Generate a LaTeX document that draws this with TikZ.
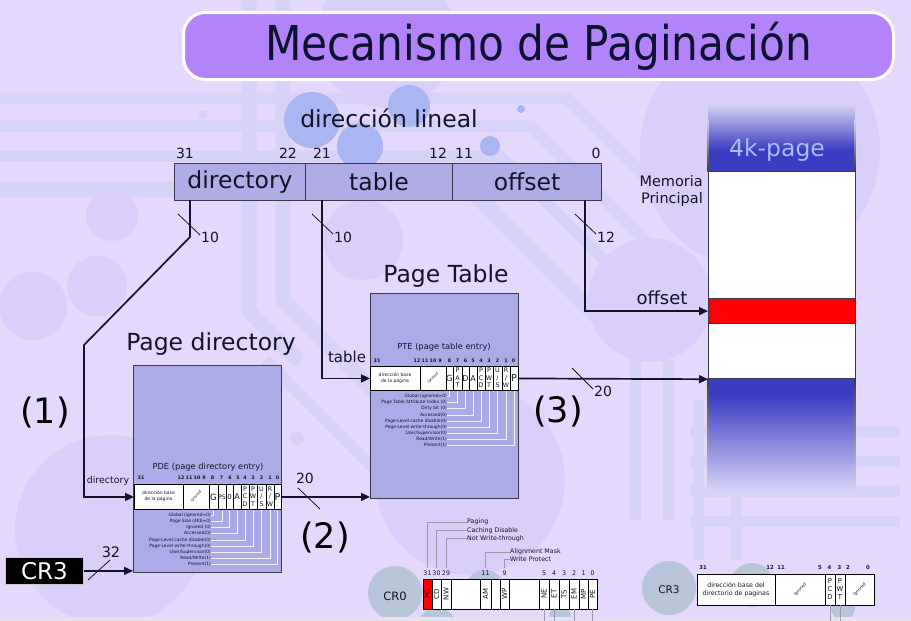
\documentclass[tikz,border=0pt]{standalone}
\usepackage{fontspec}
\setmainfont{DejaVu Sans}
\newfontfamily\titlefont[FakeStretch=0.88]{DejaVu Sans}
\usetikzlibrary{arrows.meta}
\definecolor{bgcol}{HTML}{E4D8FC}
\definecolor{ringcol}{HTML}{D9CFFA}
\definecolor{bluedot}{HTML}{A9B6F2}
\definecolor{greydot}{HTML}{B9C5D9}
\definecolor{trace}{HTML}{D7D2F7}
\definecolor{titlefill}{HTML}{B383FB}
\definecolor{titleink}{HTML}{0C1230}
\definecolor{ink}{HTML}{141428}
\definecolor{barfill}{HTML}{B0ACE6}
\definecolor{boxfill}{HTML}{ACABE8}
\definecolor{boxedge}{HTML}{3A3A4A}
\definecolor{pageblue}{HTML}{3A3CC2}
\definecolor{pagelabel}{HTML}{A9BDF4}
\definecolor{pagetop}{HTML}{D4D2F2}
\definecolor{pagefade}{HTML}{D6D2F6}
\definecolor{leader}{HTML}{F2F2FA}
\definecolor{regleader}{HTML}{9A9AA8}
\definecolor{bottomstrip}{HTML}{E6E3EE}
\definecolor{cr3edge}{HTML}{C8C8D0}
\newcommand\setsz[2]{\fontsize{#1}{#2}\selectfont}
\begin{document}
\begin{tikzpicture}[x=1pt,y=-1pt,
  wire/.style={draw=ink,line width=1.7pt},
  arrowwire/.style={wire,-{Triangle[length=9pt,width=8pt]}},
  buswidth/.style={draw=ink,line width=0.8pt},
  txt/.style={inner sep=0pt,text=ink},
  fieldbox/.style={draw=boxedge,line width=1pt,fill=barfill,inner sep=0pt,
    minimum height=37pt,anchor=north west,font=\setsz{23.5}{28},text=ink},
  tablebox/.style={draw=boxedge,line width=1.2pt,fill=boxfill,inner sep=0pt,anchor=north west},
  entryrow/.style={draw=black,line width=0.9pt,fill=white,inner sep=0pt,anchor=north west},
  divider/.style={draw=black,line width=0.7pt},
  leaderline/.style={draw=leader,line width=0.55pt},
  regline/.style={draw=regleader,line width=0.7pt},
  bitno/.style={inner sep=0pt,text=ink,font=\setsz{4.8}{5}\bfseries},
  flag/.style={inner sep=0pt,text=ink,align=center,font=\setsz{6.3}{7.4}},
  note/.style={inner sep=0pt,text=ink,anchor=east,font=\setsz{4.4}{5}},
  skew/.style={inner sep=0pt,text=ink,rotate=45,font=\setsz{3.6}{4}},
  bigmark/.style={inner sep=0pt,text=black,font=\setsz{35}{40}},
  headline/.style={inner sep=0pt,text=ink,font=\setsz{23.5}{28}},
  regflag/.style={inner sep=0pt,text=ink,rotate=90,font=\setsz{7}{8}},
  regbit/.style={inner sep=0pt,text=ink,font=\setsz{6.3}{7}},
  regnote/.style={inner sep=0pt,text=ink,anchor=west,font=\setsz{6.3}{7}},
  band/.style={draw=trace,line width=11pt},
]
\useasboundingbox (0,0) rectangle (911,621);
\fill[bgcol] (0,0) rectangle (911,621);

% ---------- background ornaments: circuit traces and dots ----------
\draw[band] (0,98) -- (567,98) -- (760,291);
\draw[band] (0,126) -- (531,126) -- (720,315);
\draw[band] (0,156) -- (500,156) -- (690,346);
\draw[band,line width=16pt] (0,189) -- (470,189) -- (640,359);
\draw[band,line width=15pt] (249,0) -- (249,311) -- (300,362);
\draw[band,line width=15pt] (283,0) -- (283,300) -- (380,397);
\draw[band] (265,360) -- (380,475);
\draw[band] (635,360) -- (635,520);
\draw[band] (668,360) -- (668,520);
\draw[band] (690,431) -- (900,431);
\draw[band] (690,461) -- (900,461);
\draw[band] (690,491) -- (900,491);
\draw[band] (690,521) -- (900,521);
\draw[band] (698,400) -- (698,560);
\draw[band] (736,400) -- (736,560);
\fill[ringcol] (760,150) circle (120);
\fill[ringcol] (386,38) circle (70);
\fill[ringcol] (110,530) circle (95);
\fill[ringcol] (470,480) circle (95);
\fill[ringcol] (650,300) circle (62);
\fill[ringcol] (363,240) circle (40);
\fill[ringcol] (112,215) circle (26);
\fill[ringcol] (33,306) circle (34);
\fill[ringcol] (97,286) circle (30);
\fill[ringcol] (297,438) circle (7);
\fill[ringcol] (783,465) circle (13);
\fill[ringcol] (203,115) circle (5);
\fill[bluedot] (312,120) circle (28);
\fill[bluedot] (360,146) circle (23);
\fill[bluedot] (409,106) circle (21);
\fill[bluedot] (490,146) circle (10);
\fill[bluedot] (521,109) circle (4);
\fill[greydot] (395,593) circle (27);
\fill[greydot] (437,628) circle (20);
\fill[greydot] (485,590) circle (20);
\fill[greydot] (560,617) circle (11);
\fill[greydot] (669,588) circle (27);
\fill[greydot] (752,585) circle (22);
\fill[greydot] (843,608) circle (12);
\fill[bottomstrip] (0,617) rectangle (911,621);

% ---------- title ----------
\node[draw=white,line width=3pt,fill=titlefill,rounded corners=22pt,
  minimum width=710pt,minimum height=67pt,inner sep=0pt,anchor=north west,
  text=titleink,font=\titlefont\setsz{48}{52}] (title) at (182,11) {Mecanismo de Paginación};

% ---------- linear address ----------
\node[headline] (linaddr) at (389,118) {dirección lineal};
\node[fieldbox,minimum width=131pt] (dirfield) at (174,163) {directory};
\node[fieldbox,minimum width=147pt] (tblfield) at (305,163) {table};
\node[fieldbox,minimum width=149pt] (offfield) at (452,163) {offset};
\foreach \bx/\bn [count=\i] in {185/31,288/22,322/21,438/12,464/11,596/0}
  \node[txt,font=\setsz{14}{16}] (linbit\i) at (\bx,153) {\bn};

\coordinate (dirtap) at (190,200);
\coordinate (tbltap) at (322,200);
\coordinate (offtap) at (585,200);

% ---------- page directory ----------
\node[headline] (pdtitle) at (211,344) {Page directory};
\node[tablebox,minimum width=148pt,minimum height=207pt] (pdbox) at (133,365) {};
\node[txt,font=\setsz{8.3}{9}] (pdetitle) at (208,467) {PDE (page directory entry)};
\node[entryrow,minimum width=147pt,minimum height=25pt] (pderow) at (134,484) {};
\foreach \x in {183,209,218,226,233,241,249,257,266,274}
  \draw[divider] (\x,484) -- (\x,509);
\node[flag,font=\setsz{4.5}{6}] (pdebase) at (158.5,496.5) {dirección base\\de la página};
\node[skew] (pdeign) at (196,496.5) {ignored};
\node[flag,font=\setsz{8.5}{9}] (pdeG) at (213.5,497) {G};
\node[flag,font=\setsz{6.2}{7}] (pdePS) at (222,497) {PS};
\node[flag,font=\setsz{7}{8}] (pdeZ) at (229.5,497) {0};
\node[flag,font=\setsz{8}{9}] (pdeA) at (237,497) {A};
\node[flag] (pdePCD) at (245,496.5) {P\\C\\D};
\node[flag] (pdePWT) at (253,496.5) {P\\W\\T};
\node[flag] (pdeUS) at (261.5,496.5) {U\\/\\S};
\node[flag] (pdeRW) at (270,496.5) {R\\/\\W};
\node[flag,font=\setsz{9.5}{10}] (pdeP) at (277.5,497) {P};
\foreach \bx/\bn [count=\i] in {141/31,181/12,189/11,197/10,204/9,212.5/8,221.5/7,
    230/6,238/5,245/4,253/3,261.5/2,270/1,277.5/0}
  \node[bitno] (pdebit\i) at (\bx,478) {\bn};
\foreach \yy/\cx/\tx [count=\i] in {515/213.5/{Global (ignored=0)},521/222/{Page Size (4Kb=0)},
    527/229.5/{Ignored (0)},533.5/237/{Accessed(0)},540/245/{Page-Level cache disable(0)},
    546/253/{Page-Level write-through(0)},552/261.5/{User/Supervisor(0)},
    558/270/{Read/Write(1)},564/277.5/{Present(1)}}{
  \node[note] (pdenote\i) at (211,\yy) {\tx};
  \draw[leaderline] (pdenote\i.east) -| (\cx,509.5);
}

% ---------- page table ----------
\node[headline] (pttitle) at (446,276) {Page Table};
\node[tablebox,minimum width=148pt,minimum height=205pt] (ptbox) at (370,293) {};
\node[txt,font=\setsz{8.3}{9}] (ptetitle) at (444,347) {PTE (page table entry)};
\node[entryrow,minimum width=148pt,minimum height=24pt] (pterow) at (370,366) {};
\foreach \x in {420,446,453,462,469,477,485,493,502,510}
  \draw[divider] (\x,366) -- (\x,390);
\node[flag,font=\setsz{4.5}{6}] (ptebase) at (395,378) {dirección base\\de la página};
\node[skew] (pteign) at (433,378) {ignored};
\node[flag,font=\setsz{8.5}{9}] (pteG) at (449.5,378.5) {G};
\node[flag] (ptePAT) at (457.5,378) {P\\A\\T};
\node[flag,font=\setsz{8}{9}] (pteD) at (465.5,378.5) {D};
\node[flag,font=\setsz{8}{9}] (pteA) at (473,378.5) {A};
\node[flag] (ptePCD) at (481,378) {P\\C\\D};
\node[flag] (ptePWT) at (489,378) {P\\W\\T};
\node[flag] (pteUS) at (497.5,378) {U\\/\\S};
\node[flag] (pteRW) at (506,378) {R\\/\\W};
\node[flag,font=\setsz{9.5}{10}] (pteP) at (514,378.5) {P};
\foreach \bx/\bn [count=\i] in {377/31,417/12,425/11,433/10,440/9,449.5/8,457.5/7,
    465.5/6,473/5,481/4,489/3,497.5/2,506/1,513.5/0}
  \node[bitno] (ptebit\i) at (\bx,361) {\bn};
\foreach \yy/\cx/\tx [count=\i] in {396/449.5/{Global (ignored=0)},
    402/457.5/{Page Table Attribute Index (0)},408.5/465.5/{Dirty bit (0)},
    415/473/{Accessed(0)},421/481/{Page-Level cache disable(0)},
    427/489/{Page-Level write-through(0)},433/497.5/{User/Supervisor(0)},
    439/506/{Read/Write(1)},445/514/{Present(1)}}{
  \node[note] (ptenote\i) at (447,\yy) {\tx};
  \draw[leaderline] (ptenote\i.east) -| (\cx,390.5);
}

% ---------- physical memory, 4k page ----------
\shade[top color=pagetop,bottom color=pageblue] (708,105) rectangle (855,150);
\fill[pageblue] (708,150) rectangle (855,171);
\node[txt,text=pagelabel,font=\setsz{23.5}{28}] (pagename) at (777,150) {4k-page};
\node[draw=boxedge,line width=1.2pt,fill=white,minimum width=147pt,minimum height=127pt,
  inner sep=0pt,anchor=north west] (memtop) at (708,171) {};
\node[draw=boxedge,line width=1.2pt,fill=red,minimum width=147pt,minimum height=25pt,
  inner sep=0pt,anchor=north west] (redslot) at (708,298) {};
\node[draw=boxedge,line width=1.2pt,fill=white,minimum width=147pt,minimum height=55pt,
  inner sep=0pt,anchor=north west] (memlow) at (708,323) {};
\fill[pageblue] (708,378.6) rectangle (855,395);
\shade[top color=pageblue,bottom color=pagefade] (708,395) rectangle (855,490);
\shade[top color=boxedge,bottom color=pagefade] (707.4,378) rectangle (708.6,490);
\shade[top color=boxedge,bottom color=pagefade] (854.4,378) rectangle (855.6,490);
\shade[top color=pagetop,bottom color=boxedge] (707.4,120) rectangle (708.6,171);
\shade[top color=pagetop,bottom color=boxedge] (854.4,120) rectangle (855.6,171);
\node[txt,align=right,anchor=east,font=\setsz{14.5}{17.5}] (memname) at (703,191) {Memoria\\Principal};

% ---------- connectors ----------
\draw[arrowwire] (dirtap) -- (190,237) -- (84,345) |- (pderow.west);
\draw[buswidth] (178,214) -- (200,235);
\node[txt,anchor=west,font=\setsz{14}{16}] (dirwidth) at (201,237) {10};
\node[txt,font=\setsz{9.5}{11}] (dirlabel) at (108,481) {directory};

\draw[arrowwire] (tbltap) |- (pterow.west);
\draw[buswidth] (312,214) -- (333,234);
\node[txt,anchor=west,font=\setsz{14}{16}] (tblwidth) at (334,237) {10};
\node[txt,font=\setsz{15}{17}] (tbllabel) at (347,357) {table};

\draw[arrowwire] (offtap) |- (redslot.west);
\draw[buswidth] (575,214) -- (596,234);
\node[txt,anchor=west,font=\setsz{14}{16}] (offwidth) at (597,237) {12};
\node[txt,font=\setsz{18}{20}] (offlabel) at (662,298) {offset};

\draw[arrowwire] (pderow.east) -- (ptbox.west |- pderow.east);
\draw[buswidth] (298,488) -- (320,509);
\node[txt,font=\setsz{14}{16}] (pdewidth) at (305,478) {20};

\draw[arrowwire] (pterow.east) -- (memlow.south west);
\draw[buswidth] (572,368) -- (593,389);
\node[txt,anchor=west,font=\setsz{14}{16}] (ptewidth) at (594,391) {20};

\node[draw=cr3edge,line width=0.8pt,fill=black,text=white,minimum width=78pt,
  minimum height=27pt,inner sep=0pt,anchor=north west,font=\setsz{23}{26}] (cr3) at (5,557) {CR3};
\draw[arrowwire] (cr3.east) -- (pdbox.west |- cr3.east);
\draw[buswidth] (88,580) -- (110,560);
\node[txt,font=\setsz{14.5}{16}] (cr3width) at (111,552) {32};

\node[bigmark] (stepone) at (45,413) {(1)};
\node[bigmark] (steptwo) at (325,538) {(2)};
\node[bigmark] (stepthree) at (558,412) {(3)};

% ---------- CR0 register ----------
\node[txt,font=\setsz{11.5}{13}] (crzero) at (395,596) {CR0};
\node[draw=black,line width=0.9pt,fill=white,minimum width=174pt,minimum height=30pt,
  inner sep=0pt,anchor=north west] (cr0reg) at (423,579) {};
\fill[red] (423.4,579.4) rectangle (432,608.6);
\foreach \x in {432,441,451,480,491,500,509,539,549,559,569,579,588}
  \draw[divider] (\x,579) -- (\x,609);
\draw[black,line width=0.9pt] (cr0reg.north west) rectangle (cr0reg.south east);
\foreach \cx/\fl [count=\i] in {427.5/PG,436.5/CD,446/NW,485.5/AM,504.5/WP,544/NE,
    554/ET,564/TS,574/EM,583.5/MP,592.5/PE}
  \node[regflag] (cr0flag\i) at (\cx,594) {\fl};
\foreach \cx/\bn [count=\i] in {427.5/31,436.5/30,446/29,485.5/11,504.5/9,544/5,
    554/4,564/3,574/2,583.5/1,592.5/0}
  \node[regbit] (cr0bit\i) at (\cx,573) {\bn};
\node[regnote] (pgnote) at (467,522) {Paging};
\node[regnote] (cdnote) at (467,530.5) {Caching Disable};
\node[regnote] (nwnote) at (467,538.5) {Not Write-through};
\node[regnote] (amnote) at (510,552) {Alignment Mask};
\node[regnote] (wpnote) at (510,559.5) {Write Protect};
\draw[regline] (427.5,568) |- (pgnote.west);
\draw[regline] (436.5,568) |- (cdnote.west);
\draw[regline] (446,568) |- (nwnote.west);
\draw[regline] (485.5,568) |- (amnote.west);
\draw[regline] (504.5,568) |- (wpnote.west);
\foreach \cx in {544,554,574,592.5}
  \draw[regline] (\cx,609) -- (\cx,621);

% ---------- CR3 register ----------
\node[txt,font=\setsz{10.5}{12}] (crthree) at (669,590) {CR3};
\node[draw=black,line width=0.9pt,fill=white,minimum width=177pt,minimum height=31pt,
  inner sep=0pt,anchor=north west] (cr3reg) at (697,574) {};
\foreach \x in {775,825,835,845}
  \draw[divider] (\x,574) -- (\x,605);
\node[flag,font=\setsz{6.3}{8.5}] (cr3base) at (736,589.5) {dirección base del\\directorio de paginas};
\node[skew,font=\setsz{4.2}{5}] (cr3ignA) at (800,589.5) {ignored};
\node[flag,font=\setsz{6.8}{8}] (cr3PCD) at (830,589.5) {P\\C\\D};
\node[flag,font=\setsz{6.8}{8}] (cr3PWT) at (840,589.5) {P\\W\\T};
\node[skew,font=\setsz{4.2}{5}] (cr3ignB) at (859.5,589.5) {ignored};
\foreach \cx/\bn [count=\i] in {703/31,770/12,781/11,820/5,829.5/4,839.5/3,848/2,868/0}
  \node[regbit,font=\setsz{5.3}{6}\bfseries] (cr3bit\i) at (\cx,568) {\bn};
\foreach \cx in {830,840}
  \draw[regline] (\cx,605) -- (\cx,621);
\end{tikzpicture}
\end{document}
